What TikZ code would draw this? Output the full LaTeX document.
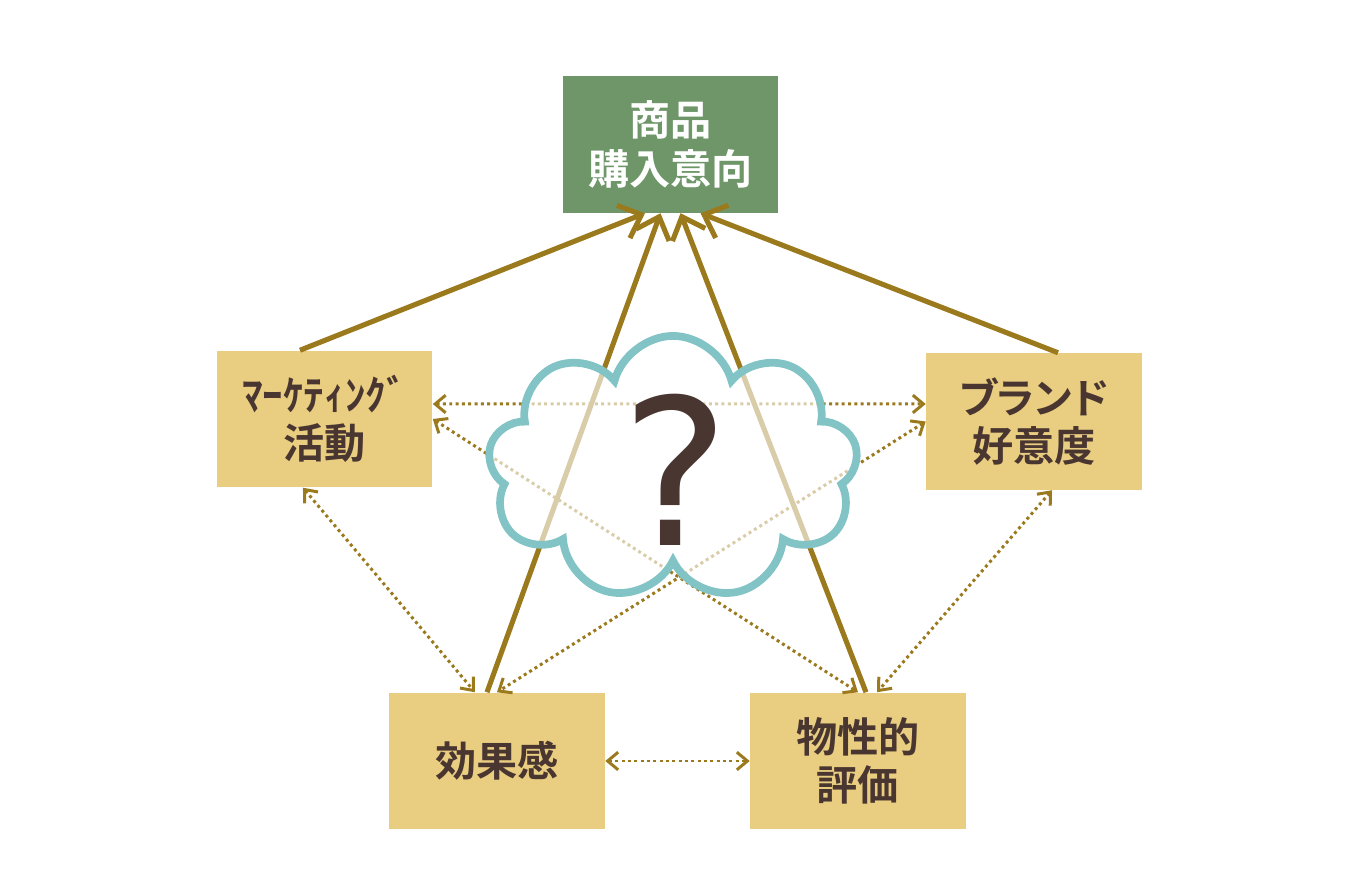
\documentclass[tikz,border=0pt]{standalone}
\usepackage{fontspec}
\newfontfamily\jp{Noto Sans CJK JP}[BoldFont={Noto Sans CJK JP Bold},RawFeature=+palt]
\newfontfamily\qmark{DejaVu Sans}
\usetikzlibrary{arrows.meta,shapes.symbols}
\definecolor{PurGreen}{HTML}{6E9669}
\definecolor{BoxSand}{HTML}{E9CD80}
\definecolor{InkBrown}{HTML}{4A3631}
\definecolor{LinkGold}{HTML}{9B7A1E}
\definecolor{CloudTeal}{HTML}{82C3C6}

\begin{document}
\begin{tikzpicture}[x=0.01cm,y=-0.01cm,
  box/.style={fill=BoxSand,minimum width=2.15cm,minimum height=1.36cm,inner sep=0pt,
    text=InkBrown,align=center,font=\jp\bfseries\fontsize{11.7}{13.8}\selectfont},
  link/.style={LinkGold,line width=1.45pt,-{Straight Barb[length=5.5pt,width=10pt]}},
  tie/.style={LinkGold,line width=0.85pt,dash pattern=on 0.85pt off 0.95pt,
    {Straight Barb[length=3pt,width=5pt]}-{Straight Barb[length=3pt,width=5pt]}}]
  \useasboundingbox (0,0) rectangle (1350,888);
  \node[box,fill=PurGreen,text=white] (goal) at (670.5,144.5) {商品\\購入意向};
  \node[box] (mkt) at (324.5,419) {ﾏｰｹﾃｨﾝｸﾞ\\活動};
  \node[box] (brand) at (1034,421.5) {ブランド\\好意度};
  \node[box] (eff) at (497,761) {効果感};
  \node[box] (phys) at (858,761) {物性的\\評価};
  % paths into purchase intention
  \draw[link] ([xshift=-0.245cm]mkt.north) -- ([xshift=-0.255cm]goal.south);
  \draw[link] ([xshift=-0.1cm]eff.north) -- ([xshift=-0.1cm]goal.south);
  \draw[link] ([xshift=0.08cm]phys.north) -- ([xshift=0.1cm]goal.south);
  \draw[link] ([xshift=0.24cm]brand.north) -- ([xshift=0.3cm]goal.south);
  % mutual relations
  \draw[tie] ([yshift=0.15cm]mkt.east) -- ([yshift=0.175cm]brand.west);
  \draw[tie] (mkt.east) -- (phys.north);
  \draw[tie] (brand.west) -- (eff.north);
  \draw[tie] ([xshift=-0.215cm]mkt.south) -- ([xshift=-0.22cm]eff.north);
  \draw[tie] ([xshift=0.18cm]brand.south) -- ([xshift=0.19cm]phys.north);
  \draw[tie] (eff) -- (phys);
  \node[cloud,cloud puffs=9,aspect=1.4,minimum width=3.7cm,minimum height=2.64cm,
    draw=CloudTeal,line width=2.2pt,fill=white,fill opacity=0.62,draw opacity=1] (fog) at (673,468) {};
  \node[text=InkBrown,font=\qmark\fontsize{58}{58}\selectfont] (ask) at (676,470) {?};
\end{tikzpicture}
\end{document}
